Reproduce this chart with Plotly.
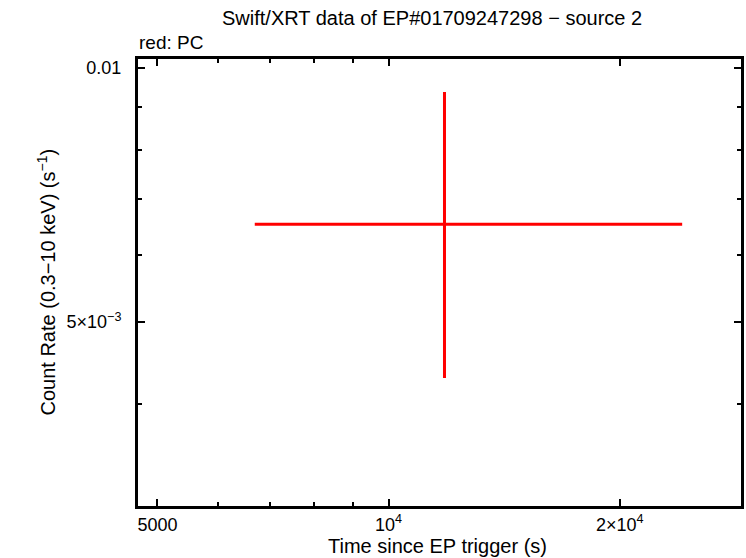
import plotly.graph_objects as go

# Data
time_s = [11825.0]
time_err_minus = [11825.0 - 6694.0]
time_err_plus = [24120.0 - 11825.0]
rate = [0.006530]
rate_err_plus = [0.009366 - 0.006530]
rate_err_minus = [0.006530 - 0.004291]

x_tickvals = [5000, 10000, 20000]
x_ticktext = ["5000", "10<sup>4</sup>", "2×10<sup>4</sup>"]
x_minor = [6000, 7000, 8000, 9000]
y_tickvals = [0.005, 0.01]
y_ticktext = ["5×10<sup>−3</sup>", "0.01"]
y_minor = [0.004, 0.006, 0.007, 0.008, 0.009]

FONT = "Liberation Sans, Arial, sans-serif"

fig = go.Figure()
fig.add_trace(go.Scatter(
    x=time_s, y=rate, mode="markers",
    marker=dict(size=0.1, color="#ff0000"),
    error_x=dict(type="data", symmetric=False, array=time_err_plus,
                 arrayminus=time_err_minus, color="#ff0000", thickness=3, width=0),
    error_y=dict(type="data", symmetric=False, array=rate_err_plus,
                 arrayminus=rate_err_minus, color="#ff0000", thickness=3, width=0),
    showlegend=False, hoverinfo="skip",
))

fig.update_layout(
    width=746, height=558,
    margin=dict(l=137, r=2, t=58, b=51),
    paper_bgcolor="white", plot_bgcolor="white",
    font=dict(family=FONT, size=18, color="black"),
    showlegend=False,
    xaxis=dict(
        type="log", range=[3.6723, 4.4603],
        tickvals=x_tickvals, ticktext=x_ticktext,
        ticks="inside", ticklen=8, tickwidth=2, tickcolor="black",
        minor=dict(tickvals=x_minor, ticks="inside", ticklen=5, tickwidth=2, tickcolor="black"),
        showline=True, linecolor="black", linewidth=2, mirror="allticks",
        showgrid=False, zeroline=False,
        tickfont=dict(family=FONT, size=18),
    ),
    yaxis=dict(
        type="log", range=[-2.52027, -1.98815],
        tickvals=y_tickvals, ticktext=y_ticktext,
        ticks="inside", ticklen=8, tickwidth=2, tickcolor="black",
        minor=dict(tickvals=y_minor, ticks="inside", ticklen=5, tickwidth=2, tickcolor="black"),
        showline=True, linecolor="black", linewidth=2, mirror="allticks",
        showgrid=False, zeroline=False,
        tickfont=dict(family=FONT, size=18),
        ticklabelstandoff=10,
    ),
    shapes=[
        dict(type="rect", xref="paper", yref="paper", x0=0, x1=1, y0=0, y1=1,
             line=dict(color="black", width=2), fillcolor="rgba(0,0,0,0)", layer="above"),
    ],
    annotations=[
        dict(text="Swift/XRT data of EP#01709247298 − source 2", xref="paper", yref="paper",
             x=0.5, xshift=-8, y=1, yshift=40, xanchor="center", yanchor="middle", showarrow=False,
             font=dict(family=FONT, size=20)),
        dict(text="red: PC", xref="paper", yref="paper",
             x=0, y=1, yshift=16, xanchor="left", yanchor="middle", showarrow=False,
             font=dict(family=FONT, size=19)),
        dict(text="Time since EP trigger (s)", xref="paper", yref="paper",
             x=0.5, xshift=-2, y=0, yshift=-39, xanchor="center", yanchor="middle", showarrow=False,
             font=dict(family=FONT, size=20)),
        dict(text="Count Rate (0.3−10 keV) (s<sup>−1</sup>)", xref="paper", yref="paper",
             x=0, xshift=-91, y=0.5, xanchor="center", yanchor="middle", textangle=-90,
             showarrow=False, font=dict(family=FONT, size=20)),
    ],
)

fig.write_html(
    "out.html",
    config={"displayModeBar": False},
    post_script="document.body.style.margin='0';document.body.style.overflow='hidden';",
)
